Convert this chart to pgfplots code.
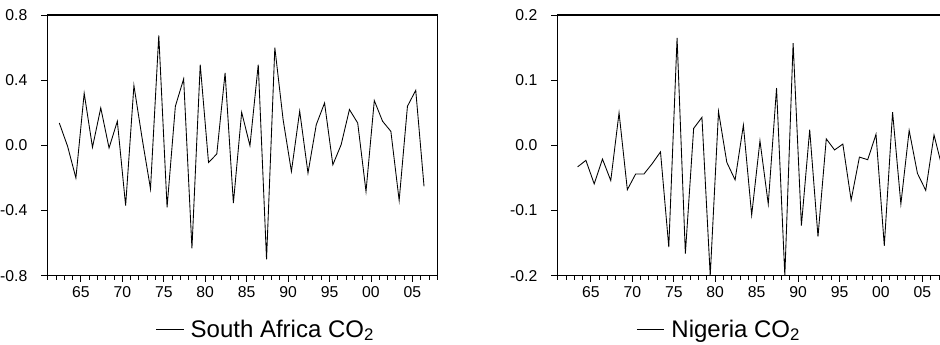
\documentclass[border=0pt]{standalone}
\usepackage{pgfplots}
\usepackage{pgfplotstable}
\pgfplotsset{compat=1.18}
\usepackage{fontspec}
\setmainfont{Liberation Sans}

\pgfplotstableread{
year val
1962 0.137
1963 -0.006
1964 -0.20
1965 0.32
1966 -0.012
1967 0.23
1968 -0.016
1969 0.148
1970 -0.37
1971 0.367
1972 0.04
1973 -0.267
1974 0.675
1975 -0.38
1976 0.24
1977 0.408
1978 -0.632
1979 0.496
1980 -0.105
1981 -0.053
1982 0.445
1983 -0.355
1984 0.203
1985 -0.002
1986 0.496
1987 -0.70
1988 0.60
1989 0.158
1990 -0.16
1991 0.21
1992 -0.17
1993 0.127
1994 0.26
1995 -0.119
1996 0.004
1997 0.22
1998 0.137
1999 -0.283
2000 0.275
2001 0.148
2002 0.086
2003 -0.338
2004 0.24
2005 0.338
2006 -0.252
}\sadata

\pgfplotstableread{
year val
1963 -0.033
1964 -0.023
1965 -0.059
1966 -0.021
1967 -0.054
1968 0.050
1969 -0.068
1970 -0.044
1971 -0.044
1972 -0.028
1973 -0.010
1974 -0.156
1975 0.165
1976 -0.166
1977 0.026
1978 0.043
1979 -0.200
1980 0.052
1981 -0.026
1982 -0.053
1983 0.031
1984 -0.107
1985 0.007
1986 -0.090
1987 0.088
1988 -0.200
1989 0.157
1990 -0.123
1991 0.024
1992 -0.140
1993 0.010
1994 -0.007
1995 0.002
1996 -0.084
1997 -0.018
1998 -0.022
1999 0.017
2000 -0.154
2001 0.051
2002 -0.090
2003 0.023
2004 -0.043
2005 -0.069
2006 0.016
2007 -0.035
}\ngdata

\begin{document}
\begin{tikzpicture}
\pgfplotsset{
  panel/.style={
    scale only axis, width=292.8pt, height=195.5pt,
    anchor=south west,
    xmin=1960.55, xmax=2007.65,
    xtick={1964.6,1969.6,1974.6,1979.6,1984.6,1989.6,1994.6,1999.6,2004.6},
    xticklabels={65,70,75,80,85,90,95,00,05},
    minor xtick={1960.6,1961.6,...,2007.6},
    xtick pos=bottom, ytick pos=left,
    tick align=outside,
    major tick length=4.5pt, minor tick length=3pt,
    tick style={black, line width=0.7pt},
    axis line style={line width=1pt},
    ticklabel style={font=\fontsize{11.8}{13.5}\selectfont},
    yticklabel style={xshift=-7pt},
    legend image code/.code={\draw[##1] (0pt,0pt) -- (20.5pt,0pt);},
    legend style={anchor=west, draw=none, fill=none, inner sep=0pt, outer sep=0pt,
      nodes={inner sep=0pt}, column sep=5pt,
      font=\fontsize{18}{21}\selectfont},
  }
}
\begin{axis}[panel, at={(35.475pt,51.225pt)},
  ymin=-0.8, ymax=0.8,
  ytick={-0.8,-0.4,0,0.4,0.8},
  yticklabels={-0.8,-0.4,0.0,0.4,0.8},
  legend style={at={(0.278,-0.206)}}]
\addplot[black, line width=0.65pt, mark=none] table[x=year,y=val]{\sadata};
\addlegendentry{South Africa CO\textsubscript{2}}
\end{axis}
\begin{axis}[panel, at={(417.975pt,51.225pt)},
  ymin=-0.2, ymax=0.2,
  ytick={-0.2,-0.1,0,0.1,0.2},
  yticklabels={-0.2,-0.1,0.0,0.1,0.2},
  legend style={at={(0.203,-0.206)}}]
\addplot[black, line width=0.65pt, mark=none] table[x=year,y=val]{\ngdata};
\addlegendentry{Nigeria CO\textsubscript{2}}
\end{axis}
\pgfresetboundingbox
\useasboundingbox (0pt,0pt) rectangle (705pt,258pt);
\end{tikzpicture}
\end{document}
